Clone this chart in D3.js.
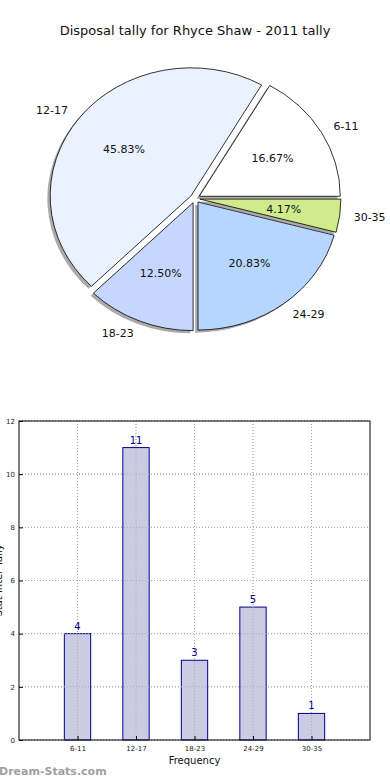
<!DOCTYPE html>
<html><head><meta charset="utf-8">
<script src="https://cdn.jsdelivr.net/npm/d3@7/dist/d3.min.js"></script>
<style>body{margin:0;background:#fff}svg{display:block}text{font-family:"DejaVu Sans",sans-serif}</style>
</head><body>
<svg id="c" width="390" height="780"></svg>
<script>
const categories = ["6-11","12-17","18-23","24-29","30-35"];
const counts = [4,11,3,5,1];
const pieColors = ["#ffffff","#eaf1ff","#c5d7ff","#b5d6ff","#cfeb8b"];
const yTicks = [0,2,4,6,8,10,12];
const titleText = "Disposal tally for Rhyce Shaw - 2011 tally";

const svg = d3.select("#c");
svg.append("text").attr("x",195).attr("y",35).attr("text-anchor","middle")
  .attr("font-size",13).attr("fill","#111").text(titleText);

// ---- Pie ----
const cx=195, cy=198.5, rx=141, ry=128, ex=0.035;
const total = d3.sum(counts);
const pie = d3.pie().sort(null).startAngle(Math.PI/2).endAngle(Math.PI/2-2*Math.PI);
const arcs = pie(counts);
const arc = d3.arc().innerRadius(0).outerRadius(1);
const pg = svg.append("g").attr("transform",`translate(${cx},${cy})`);
arcs.forEach((a,i)=>{
  const mid=(a.startAngle+a.endAngle)/2;
  const dx=Math.sin(mid)*ex*rx, dy=-Math.cos(mid)*ex*ry;
  // shadow
  pg.append("path").attr("d",arc(a))
    .attr("transform",`translate(${dx-2.8},${dy+2.6}) scale(${rx},${ry})`)
    .attr("fill","#555").attr("opacity",0.5);
  pg.append("path").attr("d",arc(a))
    .attr("transform",`translate(${dx},${dy}) scale(${rx},${ry})`)
    .attr("fill",pieColors[i]).attr("stroke","#000").attr("stroke-width",0.8)
    .attr("vector-effect","non-scaling-stroke");
  const px=dx+0.6*rx*Math.sin(mid), py=dy-0.6*ry*Math.cos(mid);
  pg.append("text").attr("x",px).attr("y",py).attr("dy","0.35em").attr("text-anchor","middle")
    .attr("font-size",11).attr("fill","#111").text((counts[i]/total*100).toFixed(2)+"%");
  const lx=dx+1.1*rx*Math.sin(mid), ly=dy-1.1*ry*Math.cos(mid);
  pg.append("text").attr("x",lx).attr("y",ly).attr("dy","0.35em")
    .attr("text-anchor",Math.sin(mid)>0?"start":"end")
    .attr("font-size",11).attr("fill","#111").text(categories[i]);
});

// ---- Bar chart ----
const L=19,R=370,T=421,B=740;
const x = d3.scaleLinear().domain([-1,5]).range([L,R]);
const y = d3.scaleLinear().domain([0,12]).range([B,T]);
const bw = 0.45;
const bg = svg.append("g");
// grid
bg.selectAll(".gy").data(yTicks).join("line").attr("x1",L).attr("x2",R)
  .attr("y1",d=>y(d)).attr("y2",d=>y(d)).attr("stroke","#aaa").attr("stroke-dasharray","1,2");
bg.selectAll(".gx").data(categories).join("line").attr("y1",T).attr("y2",B)
  .attr("x1",(d,i)=>x(i)).attr("x2",(d,i)=>x(i)).attr("stroke","#aaa").attr("stroke-dasharray","1,2");
// bars
bg.selectAll(".bar").data(counts).join("rect")
  .attr("x",(d,i)=>x(i-bw/2)).attr("width",x(bw)-x(0))
  .attr("y",d=>y(d)).attr("height",d=>B-y(d))
  .attr("fill","#cbcce4").attr("stroke","#00008b").attr("stroke-width",1);
// grid over bars (dotted visible inside bars)
bg.selectAll(".gx2").data(categories).join("line").attr("y1",T).attr("y2",B)
  .attr("x1",(d,i)=>x(i)).attr("x2",(d,i)=>x(i)).attr("stroke","#aaa").attr("stroke-dasharray","1,2");
bg.selectAll(".gy2").data(yTicks).join("line").attr("x1",L).attr("x2",R)
  .attr("y1",d=>y(d)).attr("y2",d=>y(d)).attr("stroke","#aaa").attr("stroke-dasharray","1,2");
// value labels
bg.selectAll(".vl").data(counts).join("text")
  .attr("x",(d,i)=>x(i)).attr("y",d=>y(d)-4).attr("text-anchor","middle")
  .attr("font-size",10).attr("fill","#00008b").text(d=>d);
// frame
bg.append("rect").attr("x",L).attr("y",T).attr("width",R-L).attr("height",B-T)
  .attr("fill","none").attr("stroke","#000").attr("stroke-width",1);
// axes
const ya = d3.axisLeft(y).tickValues(yTicks).tickSize(-4).tickPadding(4).tickFormat(d3.format("d"));
const yg = bg.append("g").attr("transform",`translate(${L},0)`).call(ya);
yg.select(".domain").remove();
yg.selectAll("text").attr("font-size",7).attr("fill","#222").style("font-family","DejaVu Sans");
const xa = d3.axisBottom(x).tickValues(d3.range(categories.length)).tickFormat(i=>categories[i]).tickSize(-4).tickPadding(6);
const xg = bg.append("g").attr("transform",`translate(0,${B})`).call(xa);
xg.select(".domain").remove();
xg.selectAll("text").attr("font-size",7).attr("fill","#222").style("font-family","DejaVu Sans");
bg.append("text").attr("x",(L+R)/2).attr("y",764).attr("text-anchor","middle")
  .attr("font-size",10).attr("fill","#111").text("Frequency");
bg.append("text").attr("transform",`translate(2,${(T+B)/2}) rotate(-90)`)
  .attr("text-anchor","middle").attr("font-size",10).attr("fill","#111").text("Stat Inter Tally");
svg.append("text").attr("x",-1).attr("y",775).attr("font-size",11).attr("font-weight","bold")
  .attr("fill","#a0a0a0").text("Dream-Stats.com");
</script>
</body></html>
